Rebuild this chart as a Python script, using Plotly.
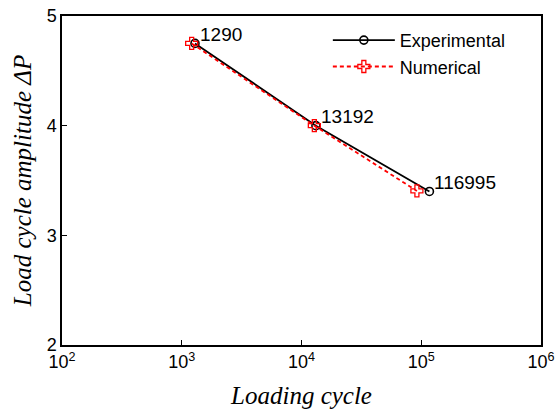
import math
import plotly.graph_objects as go

exp_cycles = [1290, 13192, 116995]
exp_amp = [4.75, 4.0, 3.4]
num_cycles = [1210, 12800, 92000]
num_amp = [4.75, 4.0, 3.405]
labels = [str(v) for v in exp_cycles]

xtick_vals = [1e2, 1e3, 1e4, 1e5, 1e6]
xtick_text = ["10<sup>2</sup>", "10<sup>3</sup>", "10<sup>4</sup>", "10<sup>5</sup>", "10<sup>6</sup>"]
ytick_vals = [2, 3, 4, 5]

SANS = "Arial, Liberation Sans"
SERIF = "Times New Roman, Liberation Serif"

fig = go.Figure()
fig.add_trace(go.Scatter(
    x=exp_cycles, y=exp_amp, mode="lines+markers", name="Experimental",
    line=dict(color="black", width=1.8),
    marker=dict(symbol="circle-open", size=8, color="black", line=dict(width=1.6)),
))
fig.add_trace(go.Scatter(
    x=num_cycles, y=num_amp, mode="lines+markers", name="Numerical",
    line=dict(color="red", width=1.8, dash="4px,3px"),
    marker=dict(symbol="cross-open", size=10, color="red", line=dict(width=1.3, color="red")),
))

for xv, yv, t in zip(exp_cycles, exp_amp, labels):
    fig.add_annotation(x=math.log10(xv), y=yv, xref="x", yref="y", text=t, showarrow=False,
                       xanchor="left", yanchor="middle", xshift=3, yshift=9,
                       font=dict(family=SANS, size=19, color="black"))

axis_common = dict(
    showline=True, linecolor="black", linewidth=1.5, mirror=True, automargin=False,
    ticks="inside", ticklen=5, tickcolor="black", showgrid=False, zeroline=False,
    tickfont=dict(family=SANS, size=18, color="black"),
)
fig.update_xaxes(type="log", range=[2, 6], tickvals=xtick_vals, ticktext=xtick_text,
                 title=dict(text="<i>Loading cycle</i>", standoff=15,
                            font=dict(family=SERIF, size=25, color="black")),
                 **axis_common)
fig.update_yaxes(range=[2, 5], tickvals=ytick_vals,
                 title=dict(text="<i>Load cycle amplitude ΔP</i>", standoff=8,
                            font=dict(family=SERIF, size=25, color="black")),
                 **axis_common)
fig.update_layout(
    width=558, height=414, margin=dict(l=62, r=17, t=16, b=69, autoexpand=False),
    plot_bgcolor="white", paper_bgcolor="white",
    legend=dict(x=0.555, y=0.982, xanchor="left", yanchor="top", bgcolor="rgba(0,0,0,0)",
                font=dict(family=SANS, size=18, color="black"),
                itemwidth=62, tracegroupgap=0),
)
fig.write_html("out.html")
